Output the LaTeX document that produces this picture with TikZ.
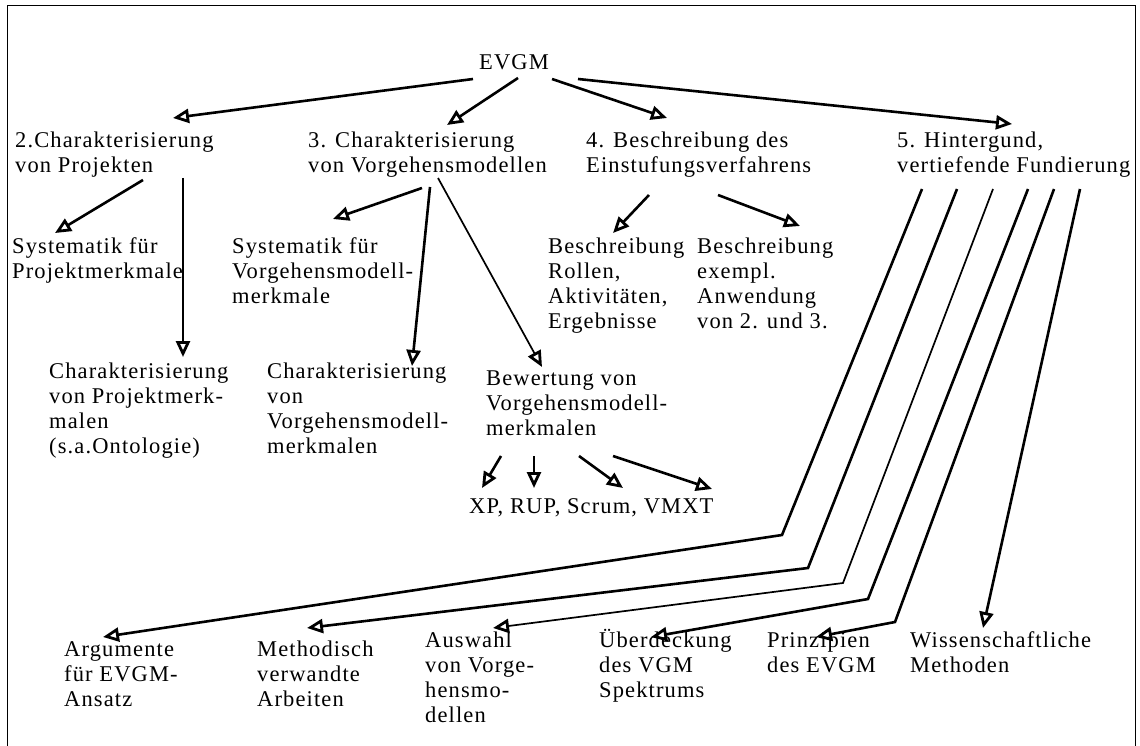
\documentclass[tikz,border=0pt]{standalone}
\usepackage{fontspec}
\setmainfont{Liberation Serif}[LetterSpace=5]
\usetikzlibrary{arrows.meta}

% left-aligned stack of lines whose baseline is the first line
\newcommand\txtstack[1]{\vtop{\halign{##\hfil\cr#1\crcr}}}

\begin{document}
\begin{tikzpicture}[x=1pt,y=-1pt,
  lbl/.style={anchor=base west, inner sep=0pt,
              font=\fontsize{22.5}{25}\selectfont},
  conn/.style={line width=2.6pt, line join=miter,
               -{Triangle[open,length=16pt,width=14pt,line width=2.8pt]}},
  thinconn/.style={conn, line width=1.7pt}]
\useasboundingbox (0,0) rectangle (1140,746);

% open frame
\draw[line width=1pt] (7.3,746) -- (7.3,5.3) -- (1135.5,5.3) -- (1135.5,746);

% top level
\node[lbl] (evgm) at (479,70) {EVGM};
\node[lbl] (c2) at (15,148) {\txtstack{2.Charakterisierung\cr von Projekten}};
\node[lbl] (c3) at (308,148) {\txtstack{3. Charakterisierung\cr von Vorgehensmodellen}};
\node[lbl] (c4) at (586,148) {\txtstack{4. Beschreibung des\cr Einstufungsverfahrens}};
\node[lbl] (c5) at (897,148) {\txtstack{5. Hintergund,\cr vertiefende Fundierung}};

% second level
\node[lbl] (sysP) at (12,253) {\txtstack{Systematik für\cr Projektmerkmale}};
\node[lbl] (sysV) at (232,253) {\txtstack{Systematik für\cr Vorgehensmodell-\cr merkmale}};
\node[lbl] (charP) at (49,378) {\txtstack{Charakterisierung\cr von Projektmerk-\cr malen\cr (s.a.Ontologie)}};
\node[lbl] (charV) at (267,378) {\txtstack{Charakterisierung\cr von\cr Vorgehensmodell-\cr merkmalen}};
\node[lbl] (bew) at (486,385) {\txtstack{Bewertung von\cr Vorgehensmodell-\cr merkmalen}};
\node[lbl] (rol) at (548,253) {\txtstack{Beschreibung\cr Rollen,\cr Aktivitäten,\cr Ergebnisse}};
\node[lbl] (anw) at (697,253) {\txtstack{Beschreibung\cr exempl.\cr Anwendung\cr von 2. und 3.}};
\node[lbl] (vm) at (469,513) {XP, RUP, Scrum, VMXT};

% foundation topics
\node[lbl] (arg) at (64,656) {\txtstack{Argumente\cr für EVGM-\cr Ansatz}};
\node[lbl] (meth) at (257,656) {\txtstack{Methodisch\cr verwandte\cr Arbeiten}};
\node[lbl] (ausw) at (425,647) {\txtstack{Auswahl\cr von Vorge-\cr hensmo-\cr dellen}};
\node[lbl] (ueber) at (599,647) {\txtstack{Überdeckung\cr des VGM\cr Spektrums}};
\node[lbl] (prinz) at (767,647) {\txtstack{Prinzipien\cr des EVGM}};
\node[lbl] (wiss) at (910,647) {\txtstack{Wissenschaftliche\cr Methoden}};

% EVGM to chapters
\draw[conn] ([shift={(-6,9)}]evgm.base west) -- ([shift={(158,-30)}]c2.base west);
\draw[conn] ([shift={(39,8)}]evgm.base west) -- ([shift={(139,-23)}]c3.base west);
\draw[conn] ([shift={(73,9)}]evgm.base west) -- ([shift={(81,-30)}]c4.base west);
\draw[conn] ([shift={(99,9)}]evgm.base west) -- ([shift={(115,-24)}]c5.base west);

% chapter 2
\draw[conn] ([shift={(128,32)}]c2.base west) -- ([shift={(43,-20)}]sysP.base west);
\draw[conn] ([shift={(168,30)}]c2.base west) -- ([shift={(134,-21)}]charP.base west);

% chapter 3
\draw[conn] ([shift={(114,40)}]c3.base west) -- ([shift={(101,-34)}]sysV.base west);
\draw[conn] ([shift={(122,39)}]c3.base west) -- ([shift={(145,-12)}]charV.base west);
\draw[thinconn] ([shift={(130,30)}]c3.base west) -- ([shift={(56,-18)}]bew.base west);

% chapter 4
\draw[conn] ([shift={(63,47)}]c4.base west) -- ([shift={(65,-20)}]rol.base west);
\draw[conn] ([shift={(132,47)}]c4.base west) -- ([shift={(103,-27)}]anw.base west);

% evaluation to the process models
\draw[conn] ([shift={(15,71)}]bew.base west) -- ([shift={(13,-25)}]vm.base west);
\draw[conn] ([shift={(48,71)}]bew.base west) -- ([shift={(65,-25)}]vm.base west);
\draw[conn] ([shift={(93,71)}]bew.base west) -- ([shift={(154,-25)}]vm.base west);
\draw[conn] ([shift={(127,71)}]bew.base west) -- ([shift={(243,-24)}]vm.base west);

% chapter 5 to foundation topics
\draw[conn] ([shift={(25,41)}]c5.base west) -- ++(-140,346) -- ([shift={(39,-19)}]arg.base west);
\draw[conn] ([shift={(60,41)}]c5.base west) -- ++(-149,379) -- ([shift={(50,-28)}]meth.base west);
\draw[thinconn] ([shift={(96,41)}]c5.base west) -- ++(-150,394) -- ([shift={(68,-19)}]ausw.base west);
\draw[conn] ([shift={(131,41)}]c5.base west) -- ++(-160,410) -- ([shift={(52,-10)}]ueber.base west);
\draw[conn] ([shift={(157,41)}]c5.base west) -- ++(-159,433) -- ([shift={(49,-10)}]prinz.base west);
\draw[conn] ([shift={(183,41)}]c5.base west) -- ([shift={(73,-19)}]wiss.base west);
\end{tikzpicture}
\end{document}
